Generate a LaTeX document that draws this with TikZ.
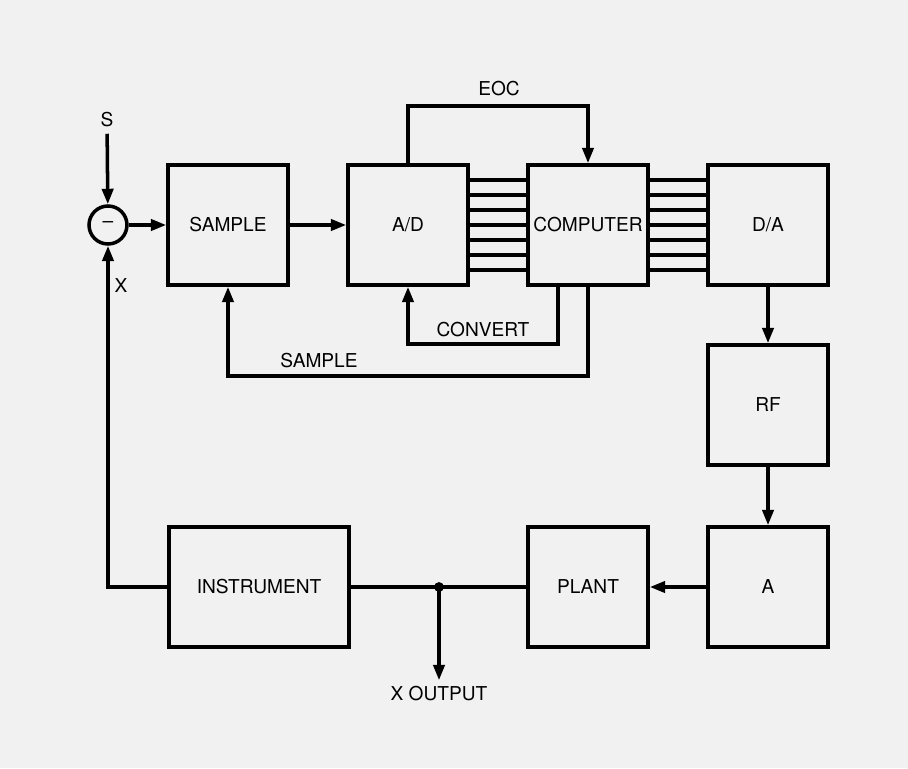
\documentclass[tikz,border=0pt]{standalone}
\usepackage{fontspec}
\setmainfont{TeX Gyre Heros}
\usetikzlibrary{arrows.meta}

\begin{document}
\begin{tikzpicture}[>={Triangle[length=11pt,width=8pt]},line width=2.5pt,
  every node/.style={font=\fontsize{13.6}{16}\selectfont},
  blk/.style={draw,minimum width=3cm,minimum height=3cm}]
  \fill[gray!11] (0,0) rectangle (22.7,-19.2);
  \useasboundingbox (0,0) rectangle (22.7,-19.2);
  \node (s) at (2.675,-3.0) {S};
  \node[draw,circle,minimum size=0.95cm,inner sep=0pt] (sum) at (2.7,-5.625) {\textendash};
  \node[blk] (samp) at (5.7,-5.625) {SAMPLE};
  \node[blk] (ad) at (10.2,-5.625) {A/D};
  \node[blk] (comp) at (14.7,-5.625) {COMPUTER};
  \node[blk] (da) at (19.2,-5.625) {D/A};
  \node[blk] (rf) at (19.2,-10.125) {RF};
  \node[blk] (a) at (19.2,-14.675) {A};
  \node[blk] (plant) at (14.7,-14.675) {PLANT};
  \node[blk,minimum width=4.5cm] (instr) at (6.475,-14.675) {INSTRUMENT};
  \node (xout) at (10.975,-17.35) {X OUTPUT};
  \node (x) at (3.025,-7.15) {X};
  \node (eoctxt) at (12.475,-2.225) {EOC};
  \node (cnvtxt) at (12.075,-8.25) {CONVERT};
  \node (samptxt) at (7.975,-9.025) {SAMPLE};
  \coordinate (eoc) at (12.475,-2.65);
  \coordinate (cnv) at (12.075,-8.6);
  \coordinate (smp) at (7.975,-9.4);
  \coordinate (out) at (10.975,-14.675);
  \draw[->] (s) -- (sum);
  \draw[->] (sum) -- (samp);
  \draw[->] (samp) -- (ad);
  \foreach \k in {-3,...,3} {
    \draw ([yshift=\k*0.375cm]ad.east) -- ([yshift=\k*0.375cm]comp.west);
    \draw ([yshift=\k*0.375cm]comp.east) -- ([yshift=\k*0.375cm]da.west);
  }
  \draw[->] (ad.north) |- (eoc) -| (comp.north);
  \draw[->] ([xshift=-0.75cm]comp.south) |- (cnv) -| (ad.south);
  \draw[->] (comp.south) |- (smp) -| (samp.south);
  \draw[->] (da) -- (rf);
  \draw[->] (rf) -- (a);
  \draw[->] (a) -- (plant);
  \draw (plant) -- (instr);
  \fill (out) circle (3.5pt);
  \draw[->] (out) -- (xout);
  \draw[->] (instr.west) -| (sum.south);
\end{tikzpicture}
\end{document}
